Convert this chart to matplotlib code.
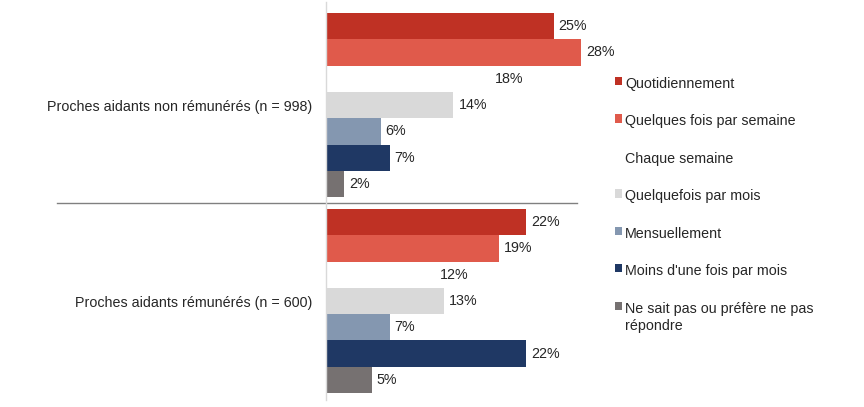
import numpy as np
import matplotlib.pyplot as plt
from matplotlib.patches import Patch

plt.rcParams['font.family'] = ['Liberation Sans', 'DejaVu Sans']

groups = ["Proches aidants non rémunérés (n = 998)",
          "Proches aidants rémunérés (n = 600)"]
series = ["Quotidiennement", "Quelques fois par semaine", "Chaque semaine",
          "Quelquefois par mois", "Mensuellement", "Moins d'une fois par mois",
          "Ne sait pas ou préfère ne pas\nrépondre"]
values = [
    [25, 22],
    [28, 19],
    [18, 12],
    [14, 13],
    [6, 7],
    [7, 22],
    [2, 5],
]
colors = ["#BF3124", "#E05A4B", "#FFFFFF", "#D9D9D9", "#8497B0", "#1F3864", "#767171"]

W, H = 864, 407
FS = 10.3
fig = plt.figure(figsize=(W / 100, H / 100), dpi=100)
ax = fig.add_axes([326 / W, 1 - 400 / H, 274 / W, 398 / H])

h = 26.3 / 196
ypos = np.arange(len(groups))
for i, (name, vals) in enumerate(zip(series, values)):
    y = ypos + (i - 3) * h
    ax.barh(y, vals, height=h, color=colors[i], label=name)
    for yy, v in zip(y, vals):
        ax.text(v + 0.55, yy, f"{v}%", va='center', ha='left', fontsize=FS, color='#262626')

ax.set_xlim(0, 30.1)
ax.set_ylim(1.505, -0.526)
ax.set_xticks([])
ax.set_yticks(ypos)
ax.set_yticklabels(groups, fontsize=FS, color='#262626')
ax.tick_params(axis='y', length=0, pad=10)
for s in ['top', 'right', 'bottom']:
    ax.spines[s].set_visible(False)
ax.spines['left'].set_color('#D9D9D9')
ax.spines['left'].set_linewidth(1)

# separator between the two groups
ax.axhline(0.5, xmin=-0.982, xmax=0.916, color='#808080', lw=1, clip_on=False)

handles = [Patch(facecolor=c, edgecolor='none') for c in colors]
leg = fig.legend(handles, series, loc='upper left', bbox_to_anchor=(615 / W, 1 - 77 / H),
                 frameon=False, fontsize=FS, handlelength=0.5, handleheight=0.5,
                 handletextpad=0.2, labelspacing=1.64, borderpad=0, borderaxespad=0)
for t in leg.get_texts():
    t.set_color('#262626')
    t.set_linespacing(1.3)
# put the marker of the two-line entry next to its first line
for col in leg._legend_handle_box.get_children():
    for item in col.get_children():
        item.align = 'top'

fig.savefig('out.png', dpi=100)
